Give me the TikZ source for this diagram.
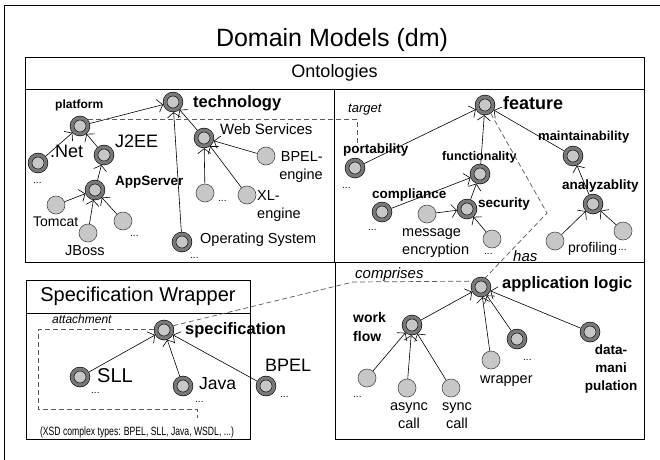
\documentclass[tikz,border=0pt]{standalone}
\usepackage{fontspec}
\setmainfont{Liberation Sans}
\newfontfamily\narrowsans{Liberation Sans}[FakeStretch=0.72]
\usepackage{tikz}
\usetikzlibrary{arrows.meta}
\definecolor{ringgray}{rgb}{0.47, 0.47, 0.47}
\definecolor{coregray}{rgb}{0.78, 0.78, 0.78}
\definecolor{dashgray}{rgb}{0.35, 0.35, 0.35}
\tikzstyle{concept}=[circle, draw=black, line width=0.6pt, double=ringgray, double distance=3.2pt, fill=coregray, minimum size=16pt, inner sep=0pt, outer sep=2.2pt]
\tikzstyle{leaf}=[circle, draw=black!70, line width=0.6pt, fill=coregray, minimum size=18pt, inner sep=0pt]
\tikzstyle{frame}=[rectangle, draw=black, line width=1pt, inner sep=0pt]
\tikzstyle{arrow}=[line width=0.6pt, -{Straight Barb[length=5pt, width=13pt]}]
\tikzstyle{relation}=[line width=0.7pt, dashgray, dash pattern=on 5pt off 3pt]
\tikzstyle{txt}=[inner sep=0pt, anchor=base west]
\tikzstyle{keyname}=[txt, font=\bfseries\fontsize{16.5}{18}\selectfont]
\tikzstyle{subname}=[txt, font=\bfseries\fontsize{13.5}{18}\selectfont]
\tikzstyle{plainname}=[txt, font=\fontsize{14.5}{18}\selectfont]
\tikzstyle{largename}=[txt, font=\fontsize{18}{20}\selectfont]
\tikzstyle{dots}=[txt, font=\fontsize{10}{11}\selectfont]
\tikzstyle{role}=[txt, font=\itshape\fontsize{14}{16}\selectfont]

\begin{document}
\begin{tikzpicture}[x=1pt, y=-1pt]
		\useasboundingbox (0,0) rectangle (660,459);
		\draw[line width=1pt] (4,470) |- (670,5);
		\node(title)[txt, anchor=base, font=\fontsize{25}{28}\selectfont] at (332,46){Domain Models (dm)};

		% boxes
		\node(ontohead)[frame, minimum width=619, minimum height=32, font=\fontsize{18}{20}\selectfont] at (334.5,73){Ontologies};
		\node(ontobody)[frame, minimum width=619, minimum height=173] at (334.5,175.5){};
		\draw[line width=1pt](ontobody.north)--(ontobody.south);
		\node(logicbody)[frame, minimum width=309, minimum height=177] at (489.5,350.5){};
		\node(spechead)[frame, minimum width=224, minimum height=33, font=\fontsize{20}{22}\selectfont] at (138,296.5){Specification Wrapper};
		\node(specbody)[frame, minimum width=224, minimum height=126] at (138,376){};

		% technology ontology
		\node(technology)[concept] at (173,102){};
		\node(platform)[concept] at (80,126){};
		\node(dotnet)[concept] at (38,163){};
		\node(jee)[concept] at (104,155){};
		\node(appserver)[concept] at (95,190){};
		\node(tomcat)[leaf] at (56,205){};
		\node(jboss)[leaf] at (88,233){};
		\node(asmore)[leaf] at (123,221){};
		\node(opsys)[concept] at (182,242){};
		\node(websvc)[concept] at (204,138){};
		\node(bpelengine)[leaf] at (266,156){};
		\node(wsmore)[leaf] at (205,193){};
		\node(xlengine)[leaf] at (247,195){};

		\node(techlabel)[keyname] at (193,107){technology};
		\node(platlabel)[subname, font=\bfseries\fontsize{12}{14}\selectfont] at (55,108){platform};
		\node(dotnetlabel)[largename] at (50,157){.Net};
		\node(dotnetdots)[dots] at (33,183){...};
		\node(jeelabel)[largename] at (115,147){J2EE};
		\node(aslabel)[subname] at (115,185){AppServer};
		\node(tomcatlabel)[plainname, font=\fontsize{14}{16}\selectfont] at (33,226){Tomcat};
		\node(jbosslabel)[plainname] at (65,255){JBoss};
		\node(asdots)[dots] at (130,236){...};
		\node(wslabel)[plainname, font=\fontsize{15}{17}\selectfont] at (220,134){Web Services};
		\node(bpelenginelabel)[plainname, anchor=base east, align=right] at (323,179){BPEL-\\engine};
		\node(wsdots)[dots] at (218,201){...};
		\node(xlenginelabel)[plainname, align=left] at (257,218){XL-\\engine};
		\node(opsyslabel)[plainname] at (200,243){Operating System};
		\node(opsysdots)[dots] at (190,258){...};

		\draw[arrow](platform)--(technology);
		\draw[arrow](websvc)--(technology);
		\draw[arrow](opsys)--(technology);
		\draw[arrow](dotnet)--(platform);
		\draw[arrow](jee)--(platform);
		\draw[arrow](appserver)--(jee);
		\draw[arrow](tomcat)--(appserver);
		\draw[arrow](jboss)--(appserver);
		\draw[arrow](asmore)--(appserver);
		\draw[arrow](bpelengine)--(websvc);
		\draw[arrow](wsmore)--(websvc);
		\draw[arrow](xlengine)--(websvc);

		% feature ontology
		\node(feature)[concept] at (485,105){};
		\node(portability)[concept] at (355,168){};
		\node(functionality)[concept] at (480,174){};
		\node(maintain)[concept] at (573,156){};
		\node(compliance)[concept] at (382,212){};
		\node(security)[concept] at (467,209){};
		\node(msgenc)[leaf] at (427,214){};
		\node(secmore)[leaf] at (492,239){};
		\node(analyze)[concept] at (593,204){};
		\node(profiling)[leaf] at (555,241){};
		\node(anmore)[leaf] at (623,231){};

		\node(featurelabel)[keyname, font=\bfseries\fontsize{18}{20}\selectfont] at (503,109){feature};
		\node(portlabel)[subname] at (343,153){portability};
		\node(portdots)[dots] at (342,188){...};
		\node(funclabel)[subname, font=\bfseries\fontsize{12.5}{14}\selectfont] at (442,160){functionality};
		\node(maintlabel)[subname, font=\bfseries\fontsize{13}{15}\selectfont] at (538,140){maintainability};
		\node(complabel)[subname] at (372,198){compliance};
		\node(compdots)[dots] at (368,230){...};
		\node(seclabel)[subname] at (478,207){security};
		\node(msgenclabel)[plainname, align=left] at (402,254){message\\encryption};
		\node(secdots)[dots] at (484,254){...};
		\node(anlabel)[subname] at (562,189){analyzablity};
		\node(proflabel)[plainname, font=\fontsize{14}{16}\selectfont] at (568,252){profiling};
		\node(andots)[dots] at (618,250){...};

		\draw[arrow](portability)--(feature);
		\draw[arrow](functionality)--(feature);
		\draw[arrow](maintain)--(feature);
		\draw[arrow](compliance)--(functionality);
		\draw[arrow](security)--(functionality);
		\draw[arrow](msgenc)--(security);
		\draw[arrow](secmore)--(security);
		\draw[arrow](analyze)--(maintain);
		\draw[arrow](profiling)--(analyze);
		\draw[arrow](anmore)--(analyze);

		% application logic
		\node(applogic)[concept] at (481,287){};
		\node(workflow)[concept] at (412,325){};
		\node(logicmore)[concept] at (517,339){};
		\node(datamanip)[concept] at (590,332){};
		\node(wrapper)[leaf] at (491,360){};
		\node(wfmore)[leaf] at (367,378){};
		\node(asynccall)[leaf] at (407,388){};
		\node(synccall)[leaf] at (451,388){};

		\node(applabel)[keyname] at (502,288){application logic};
		\node(wflabel)[subname, font=\bfseries\fontsize{14}{19}\selectfont, align=left] at (353,341){work\\flow};
		\node(logicdots)[dots] at (523,360){...};
		\node(dmlabel)[subname, anchor=base, align=center] at (611,390){data-\\mani\\pulation};
		\node(wrapperlabel)[plainname] at (480,383){wrapper};
		\node(wfdots)[dots] at (353,397){...};
		\node(asynclabel)[plainname, anchor=base, align=center] at (409,428){async\\call};
		\node(synclabel)[plainname, anchor=base, align=center] at (457,428){sync\\call};

		\draw[arrow](workflow)--(applogic);
		\draw[arrow](wrapper)--(applogic);
		\draw[arrow](logicmore)--(applogic);
		\draw[arrow](datamanip)--(applogic);
		\draw[arrow](wfmore)--(workflow);
		\draw[arrow](asynccall)--(workflow);
		\draw[arrow](synccall)--(workflow);

		% specification wrapper
		\node(specification)[concept] at (164,330){};
		\node(sll)[concept] at (80,377){};
		\node(java)[concept] at (183,386){};
		\node(bpel)[concept] at (266,386){};

		\node(speclabel)[keyname] at (185,334){specification};
		\node(sllabel)[largename, font=\fontsize{20}{22}\selectfont] at (97,382){SLL};
		\node(slldots)[dots] at (91,393){...};
		\node(javalabel)[largename, font=\fontsize{17.5}{20}\selectfont] at (199,389){Java};
		\node(javadots)[dots] at (195,402){...};
		\node(bpellabel)[largename] at (265,371){BPEL};
		\node(bpeldots)[dots] at (280,397){...};
		\node(xsdtypes)[txt, anchor=base, font=\narrowsans\fontsize{12}{14}\selectfont] at (137,435){(XSD complex types: BPEL, SLL, Java, WSDL, ...)};

		\draw[arrow](sll)--(specification);
		\draw[arrow](java)--(specification);
		\draw[arrow](bpel)--(specification);

		% cross relations
		\coordinate(tgtend) at (357,146);
		\coordinate(hasbend) at (547,213);
		\coordinate(compbend) at (353,282);
		\coordinate(attcorner) at (38,409);
		\coordinate(xsdtop) at (197,418);
		\draw[relation](platform.40) -| (tgtend);
		\draw[relation](feature.-56) -- (hasbend) -- (applogic.65);
		\draw[relation](specification.25) -- (compbend) -- (applogic.145);
		\draw[relation](specification.178) -| (attcorner) -| (xsdtop);
		\node(targetlabel)[role, font=\itshape\fontsize{13}{15}\selectfont] at (348,112){target};
		\node(haslabel)[role, font=\itshape\fontsize{15}{17}\selectfont] at (513,261){has};
		\node(complabel2)[role, font=\itshape\fontsize{15}{17}\selectfont] at (355,278){comprises};
		\node(attlabel)[role, font=\itshape\fontsize{12}{14}\selectfont] at (52,323){attachment};
	\end{tikzpicture}
\end{document}
